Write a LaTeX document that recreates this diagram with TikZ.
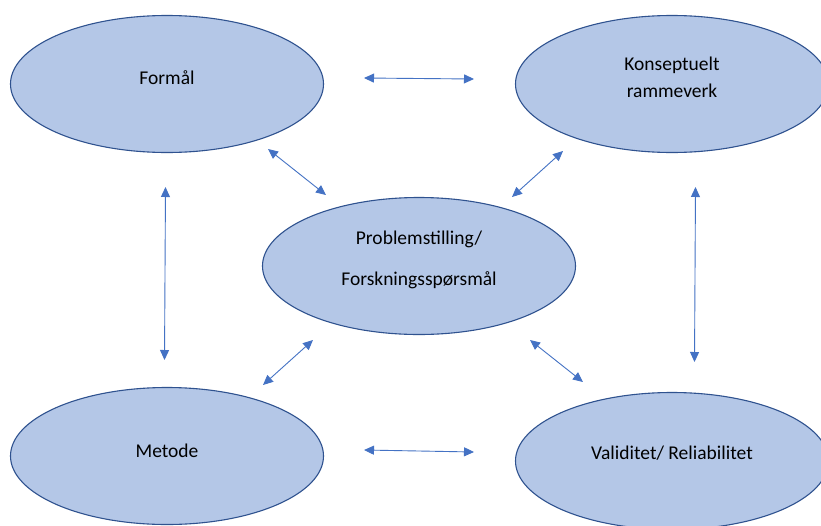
\documentclass[tikz,border=0pt]{standalone}
\usepackage{fontspec}
\setmainfont{Carlito}
\usetikzlibrary{shapes.geometric,arrows.meta}
\definecolor{ovalfill}{HTML}{B4C7E7}
\definecolor{ovalline}{HTML}{2F528F}
\definecolor{arrowblue}{HTML}{4472C4}

\begin{document}
\begin{tikzpicture}[x=1pt, y=-1pt,
  oval/.style={ellipse, draw=ovalline, fill=ovalfill, line width=1.1pt, minimum width=313pt, minimum height=137pt, inner sep=0pt},
  ovaltext/.style={font=\fontsize{19.5}{27}\selectfont, align=center, text=black, inner sep=0pt},
  link/.style={arrowblue, line width=0.9pt, {Triangle[length=10pt,width=9pt]}-{Triangle[length=10pt,width=9pt]}}]
  \useasboundingbox[fill=white] (0,0) rectangle (821,525);
  % ovals
  \node[oval] (formal) at (167,84) {};
  \node[oval] (rammeverk) at (672,84) {};
  \node[oval] (problem) at (419,266) {};
  \node[oval] (metode) at (167,456) {};
  \node[oval] (validitet) at (672,461) {};
  \node[ovaltext] (formal-txt) at ([yshift=6pt]formal.center) {Formål};
  \node[ovaltext] (rammeverk-txt) at ([yshift=7pt]rammeverk.center) {Konseptuelt\\rammeverk};
  \node[ovaltext] (problem-txt) at ([yshift=6pt]problem.center) {Problemstilling/\\[14pt]Forskningsspørsmål};
  \node[ovaltext] (metode-txt) at ([yshift=5pt]metode.center) {Metode};
  \node[ovaltext] (validitet-txt) at ([yshift=8pt]validitet.center) {Validitet/ Reliabilitet};
  % arrow ends
  \coordinate (fr-a) at (364,78);
  \coordinate (fr-b) at (474,79);
  \coordinate (mv-a) at (364,450);
  \coordinate (mv-b) at (474,452);
  \coordinate (fm-a) at (165.5,187);
  \coordinate (fm-b) at (164.5,360);
  \coordinate (rv-a) at (695.5,187);
  \coordinate (rv-b) at (694.5,362);
  \coordinate (fp-a) at (268,149);
  \coordinate (fp-b) at (326,195);
  \coordinate (rp-a) at (563,151);
  \coordinate (rp-b) at (512,197);
  \coordinate (mp-a) at (263,385);
  \coordinate (mp-b) at (313,340);
  \coordinate (vp-a) at (530,340);
  \coordinate (vp-b) at (583,382);
  % arrows
  \draw[link] (fr-a) -- (fr-b);
  \draw[link] (mv-a) -- (mv-b);
  \draw[link] (fm-a) -- (fm-b);
  \draw[link] (rv-a) -- (rv-b);
  \draw[link] (fp-a) -- (fp-b);
  \draw[link] (rp-a) -- (rp-b);
  \draw[link] (mp-a) -- (mp-b);
  \draw[link] (vp-a) -- (vp-b);
\end{tikzpicture}
\end{document}
